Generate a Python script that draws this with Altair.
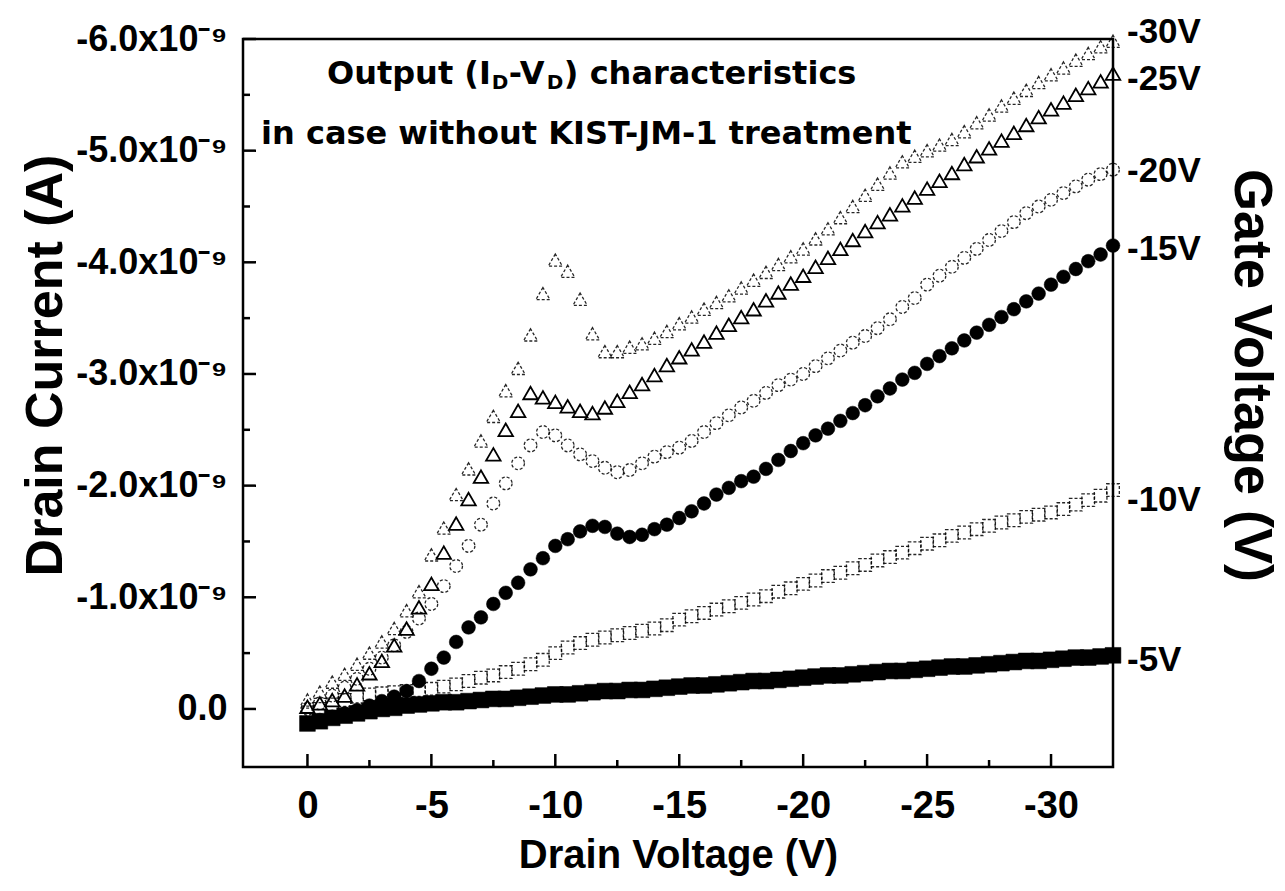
import altair as alt
import pandas as pd

# Drain voltage sweep (V)
VD = [0.0, -0.5, -1.0, -1.5, -2.0, -2.5, -3.0, -3.5, -4.0, -4.5,
      -5.0, -5.5, -6.0, -6.5, -7.0, -7.5, -8.0, -8.5, -9.0, -9.5,
      -10.0, -10.5, -11.0, -11.5, -12.0, -12.5, -13.0, -13.5, -14.0, -14.5,
      -15.0, -15.5, -16.0, -16.5, -17.0, -17.5, -18.0, -18.5, -19.0, -19.5,
      -20.0, -20.5, -21.0, -21.5, -22.0, -22.5, -23.0, -23.5, -24.0, -24.5,
      -25.0, -25.5, -26.0, -26.5, -27.0, -27.5, -28.0, -28.5, -29.0, -29.5,
      -30.0, -30.5, -31.0, -31.5, -32.0, -32.5]

# Drain current in units of 1e-9 A, one list per gate voltage
ID_M5 = [0.13, 0.11, 0.08, 0.06, 0.04, 0.02, 0.00, -0.01, -0.03, -0.04,
         -0.05, -0.06, -0.06, -0.07, -0.08, -0.09, -0.09, -0.10, -0.11, -0.12,
         -0.13, -0.13, -0.14, -0.15, -0.16, -0.16, -0.17, -0.17, -0.18, -0.19,
         -0.20, -0.21, -0.21, -0.22, -0.23, -0.24, -0.25, -0.25, -0.26, -0.27,
         -0.28, -0.29, -0.30, -0.30, -0.31, -0.32, -0.33, -0.34, -0.34, -0.35,
         -0.36, -0.37, -0.38, -0.38, -0.39, -0.40, -0.41, -0.42, -0.43, -0.43,
         -0.44, -0.45, -0.46, -0.46, -0.47, -0.48]
ID_M10 = [0.05, 0.00, -0.04, -0.08, -0.11, -0.13, -0.14, -0.15, -0.16, -0.17,
          -0.18, -0.20, -0.22, -0.25, -0.28, -0.30, -0.33, -0.36, -0.40, -0.44,
          -0.50, -0.55, -0.59, -0.62, -0.64, -0.66, -0.68, -0.70, -0.72, -0.75,
          -0.80, -0.83, -0.86, -0.89, -0.92, -0.95, -0.98, -1.01, -1.05, -1.08,
          -1.12, -1.15, -1.19, -1.22, -1.26, -1.29, -1.33, -1.36, -1.40, -1.44,
          -1.48, -1.51, -1.55, -1.58, -1.61, -1.64, -1.67, -1.69, -1.72, -1.74,
          -1.76, -1.79, -1.83, -1.87, -1.91, -1.96]
ID_M15 = [0.13, 0.10, 0.07, 0.04, 0.01, -0.03, -0.07, -0.11, -0.16, -0.25,
          -0.36, -0.46, -0.60, -0.73, -0.82, -0.94, -1.04, -1.13, -1.25, -1.35,
          -1.46, -1.52, -1.59, -1.64, -1.63, -1.57, -1.54, -1.56, -1.61, -1.65,
          -1.71, -1.77, -1.84, -1.92, -1.98, -2.04, -2.08, -2.15, -2.23, -2.31,
          -2.38, -2.45, -2.51, -2.58, -2.65, -2.72, -2.80, -2.87, -2.95, -3.01,
          -3.09, -3.16, -3.23, -3.30, -3.37, -3.44, -3.51, -3.58, -3.65, -3.72,
          -3.80, -3.87, -3.94, -4.01, -4.07, -4.15]
ID_M20 = [0.00, -0.05, -0.12, -0.19, -0.27, -0.36, -0.46, -0.57, -0.69, -0.81,
          -0.94, -1.10, -1.28, -1.46, -1.65, -1.84, -2.02, -2.20, -2.36, -2.48,
          -2.45, -2.36, -2.28, -2.22, -2.16, -2.12, -2.14, -2.20, -2.26, -2.30,
          -2.34, -2.40, -2.48, -2.56, -2.63, -2.70, -2.76, -2.83, -2.90, -2.95,
          -3.00, -3.07, -3.14, -3.21, -3.28, -3.34, -3.41, -3.49, -3.60, -3.68,
          -3.80, -3.88, -3.96, -4.04, -4.12, -4.20, -4.28, -4.36, -4.44, -4.50,
          -4.56, -4.62, -4.68, -4.74, -4.79, -4.83]
ID_M25 = [-0.02, -0.05, -0.08, -0.12, -0.22, -0.32, -0.43, -0.57, -0.72, -0.91,
          -1.12, -1.40, -1.66, -1.88, -2.08, -2.28, -2.50, -2.67, -2.83, -2.79,
          -2.75, -2.71, -2.67, -2.65, -2.70, -2.76, -2.84, -2.91, -2.99, -3.08,
          -3.15, -3.22, -3.29, -3.37, -3.44, -3.51, -3.58, -3.66, -3.73, -3.81,
          -3.88, -3.96, -4.04, -4.12, -4.20, -4.28, -4.36, -4.43, -4.51, -4.58,
          -4.66, -4.73, -4.80, -4.88, -4.95, -5.02, -5.09, -5.16, -5.23, -5.30,
          -5.37, -5.43, -5.50, -5.56, -5.62, -5.69]
ID_M30 = [-0.08, -0.15, -0.24, -0.31, -0.40, -0.50, -0.60, -0.72, -0.88, -1.05,
          -1.38, -1.62, -1.92, -2.15, -2.40, -2.62, -2.85, -3.05, -3.35, -3.72,
          -4.02, -3.92, -3.67, -3.36, -3.20, -3.20, -3.24, -3.27, -3.32, -3.38,
          -3.45, -3.51, -3.58, -3.64, -3.70, -3.77, -3.84, -3.91, -3.98, -4.05,
          -4.12, -4.21, -4.30, -4.40, -4.50, -4.60, -4.70, -4.80, -4.90, -4.95,
          -5.00, -5.05, -5.10, -5.17, -5.25, -5.32, -5.40, -5.47, -5.54, -5.61,
          -5.68, -5.74, -5.81, -5.87, -5.93, -5.98]

GATE_LABELS = ["-5V", "-10V", "-15V", "-20V", "-25V", "-30V"]
GATE_LABEL_Y = [-0.44, -1.87, -4.12, -4.82, -5.64, -6.06]
SERIES = [ID_M5, ID_M10, ID_M15, ID_M20, ID_M25, ID_M30]

X_MAJOR = [0, -5, -10, -15, -20, -25, -30]
X_MINOR = [-2.5, -7.5, -12.5, -17.5, -22.5, -27.5]
Y_MAJOR = [0, -1, -2, -3, -4, -5, -6]
Y_MINOR = [-0.5, -1.5, -2.5, -3.5, -4.5, -5.5]

ANNOT_LINE1 = ["Output (I", "D", "-V", "D", ") characteristics"]
ANNOT_LINE2 = "in case without KIST-JM-1 treatment"
ANNOT_X = [-7.4, -11.25]
ANNOT_Y = [-5.69, -5.15]

rows = []
for lab, ys in zip(GATE_LABELS, SERIES):
    for v, i in zip(VD, ys):
        rows.append({"vd": v, "id": i, "vg": lab})
df = pd.DataFrame(rows)

ends = pd.DataFrame({"vg": GATE_LABELS,
                     "vd": [VD[-1]] * len(GATE_LABELS),
                     "id": GATE_LABEL_Y})

W, H = 870, 728
FONT = "Liberation Sans"

xscale = alt.Scale(domain=[-32.5, 2.6], reverse=True, nice=False, zero=False)
yscale = alt.Scale(domain=[-6.0, 0.52], reverse=True, nice=False, zero=False)

xaxis = alt.Axis(values=X_MAJOR, grid=False, ticks=False, tickSize=0, domain=False,
                 labelExpr="replace(format(datum.value, 'd'), '\u2212', '-')",
                 labelFont=FONT, labelFontSize=38, labelFontWeight="bold", labelColor="black",
                 labelPadding=20, title="Drain Voltage (V)", titleFont=FONT,
                 titleFontSize=40, titleFontWeight="bold", titleColor="black", titlePadding=10)
yaxis = alt.Axis(values=Y_MAJOR, grid=False, ticks=False, tickSize=0, domain=False,
                 labelExpr="datum.value == 0 ? '0.0' : replace(format(datum.value, '.1f'), '\u2212', '-') + 'x10\u207b\u2079'",
                 labelFont=FONT, labelFontSize=36, labelFontWeight="bold", labelColor="black",
                 labelPadding=16, title="Drain Current (A)", titleFont=FONT,
                 titleFontSize=52, titleFontWeight="bold", titleColor="black",
                 titleX=-198, titleY=326, titleAngle=270, titleBaseline="middle", titleAlign="center")

X = lambda f: alt.X(f, scale=xscale, axis=xaxis)
Y = lambda f: alt.Y(f, scale=yscale, axis=yaxis)


def pts(label, shape, filled, size, sw=1.5, dash=None, opacity=1.0):
    kw = dict(shape=shape, size=size, opacity=opacity)
    if filled:
        kw.update(filled=True, color="black", stroke="black", strokeWidth=0.5)
    else:
        kw.update(filled=False, fill=None, stroke="black", strokeWidth=sw)
        if dash:
            kw.update(strokeDash=dash)
    return alt.Chart(df).transform_filter(alt.datum.vg == label).mark_point(**kw).encode(
        x=X("vd:Q"), y=Y("id:Q"))


p30 = pts("-30V", "triangle-up", False, 200, sw=1.3, dash=[3, 2], opacity=0.85)
p20 = pts("-20V", "circle", False, 160, sw=1.3, dash=[3, 2], opacity=0.85)
p10 = pts("-10V", "square", False, 160, sw=1.3, dash=[3, 2], opacity=0.85)
p25 = pts("-25V", "triangle-up", False, 210, sw=1.8)
p15 = pts("-15V", "circle", True, 190)
p5 = pts("-5V", "square", True, 250)

xt_major = alt.Chart(pd.DataFrame({"v": X_MAJOR})).mark_rule(color="black", strokeWidth=2.5).encode(
    x=X("v:Q"), y=alt.value(H), y2=alt.value(H - 13))
xt_minor = alt.Chart(pd.DataFrame({"v": X_MINOR})).mark_rule(color="black", strokeWidth=2.5).encode(
    x=X("v:Q"), y=alt.value(H), y2=alt.value(H - 7))
yt_major = alt.Chart(pd.DataFrame({"v": Y_MAJOR})).mark_rule(color="black", strokeWidth=2.5).encode(
    y=Y("v:Q"), x=alt.value(0), x2=alt.value(13))
yt_minor = alt.Chart(pd.DataFrame({"v": Y_MINOR})).mark_rule(color="black", strokeWidth=2.5).encode(
    y=Y("v:Q"), x=alt.value(0), x2=alt.value(7))

# annotation text (line 1 assembled from pieces to get subscripts)
afont = "DejaVu Sans"
a_df = pd.DataFrame({"x": [ANNOT_X[0]], "y": [ANNOT_Y[0]]})
pieces = [
    (ANNOT_LINE1[0], "right", 0, 0, 32),
    (ANNOT_LINE1[1], "left", 1, 9, 20),
    (ANNOT_LINE1[2], "left", 18, 0, 32),
    (ANNOT_LINE1[3], "left", 56, 9, 20),
    (ANNOT_LINE1[4], "left", 73, 0, 32),
]
ann_layers = []
for txt, al, dx, dy, fs in pieces:
    ann_layers.append(alt.Chart(a_df).mark_text(
        text=txt, align=al, baseline="middle", dx=dx, dy=dy, font=afont,
        fontSize=fs, fontWeight="bold", color="black").encode(
        x=X("x:Q"), y=Y("y:Q")))
ann2 = alt.Chart(pd.DataFrame({"x": [ANNOT_X[1]], "y": [ANNOT_Y[1]]})).mark_text(
    text=ANNOT_LINE2, align="center", baseline="middle", font=afont, fontSize=32,
    fontWeight="bold", color="black").encode(
    x=X("x:Q"), y=Y("y:Q"))

main = alt.layer(p30, p20, p10, p25, p15, p5, xt_major, xt_minor, yt_major, yt_minor,
                 *ann_layers, ann2)

gate_axis = alt.Axis(orient="right", labels=False, ticks=False, domain=False, grid=False,
                     title="Gate Voltage (V)", titleFont=FONT, titleFontSize=54,
                     titleFontWeight="bold", titleColor="black", titleAngle=90,
                     titleX=137, titleY=336, titleBaseline="middle", titleAlign="center")
gate_labels = alt.Chart(ends).mark_text(
    align="left", baseline="middle", dx=14, font=FONT, fontSize=35,
    fontWeight="bold", color="black").encode(
    x=X("vd:Q"),
    y=alt.Y("id:Q", scale=yscale, axis=gate_axis),
    text="vg:N")

chart = alt.layer(main, gate_labels).resolve_scale(y="independent").properties(
    width=W, height=H,
    padding={"left": 243, "top": 39, "right": 172, "bottom": 124},
    autosize=alt.AutoSizeParams(type="none"),
    background="white",
).configure_view(stroke="black", strokeWidth=2.5)

chart.save("out.html", embed_options={"renderer": "svg", "actions": False})
